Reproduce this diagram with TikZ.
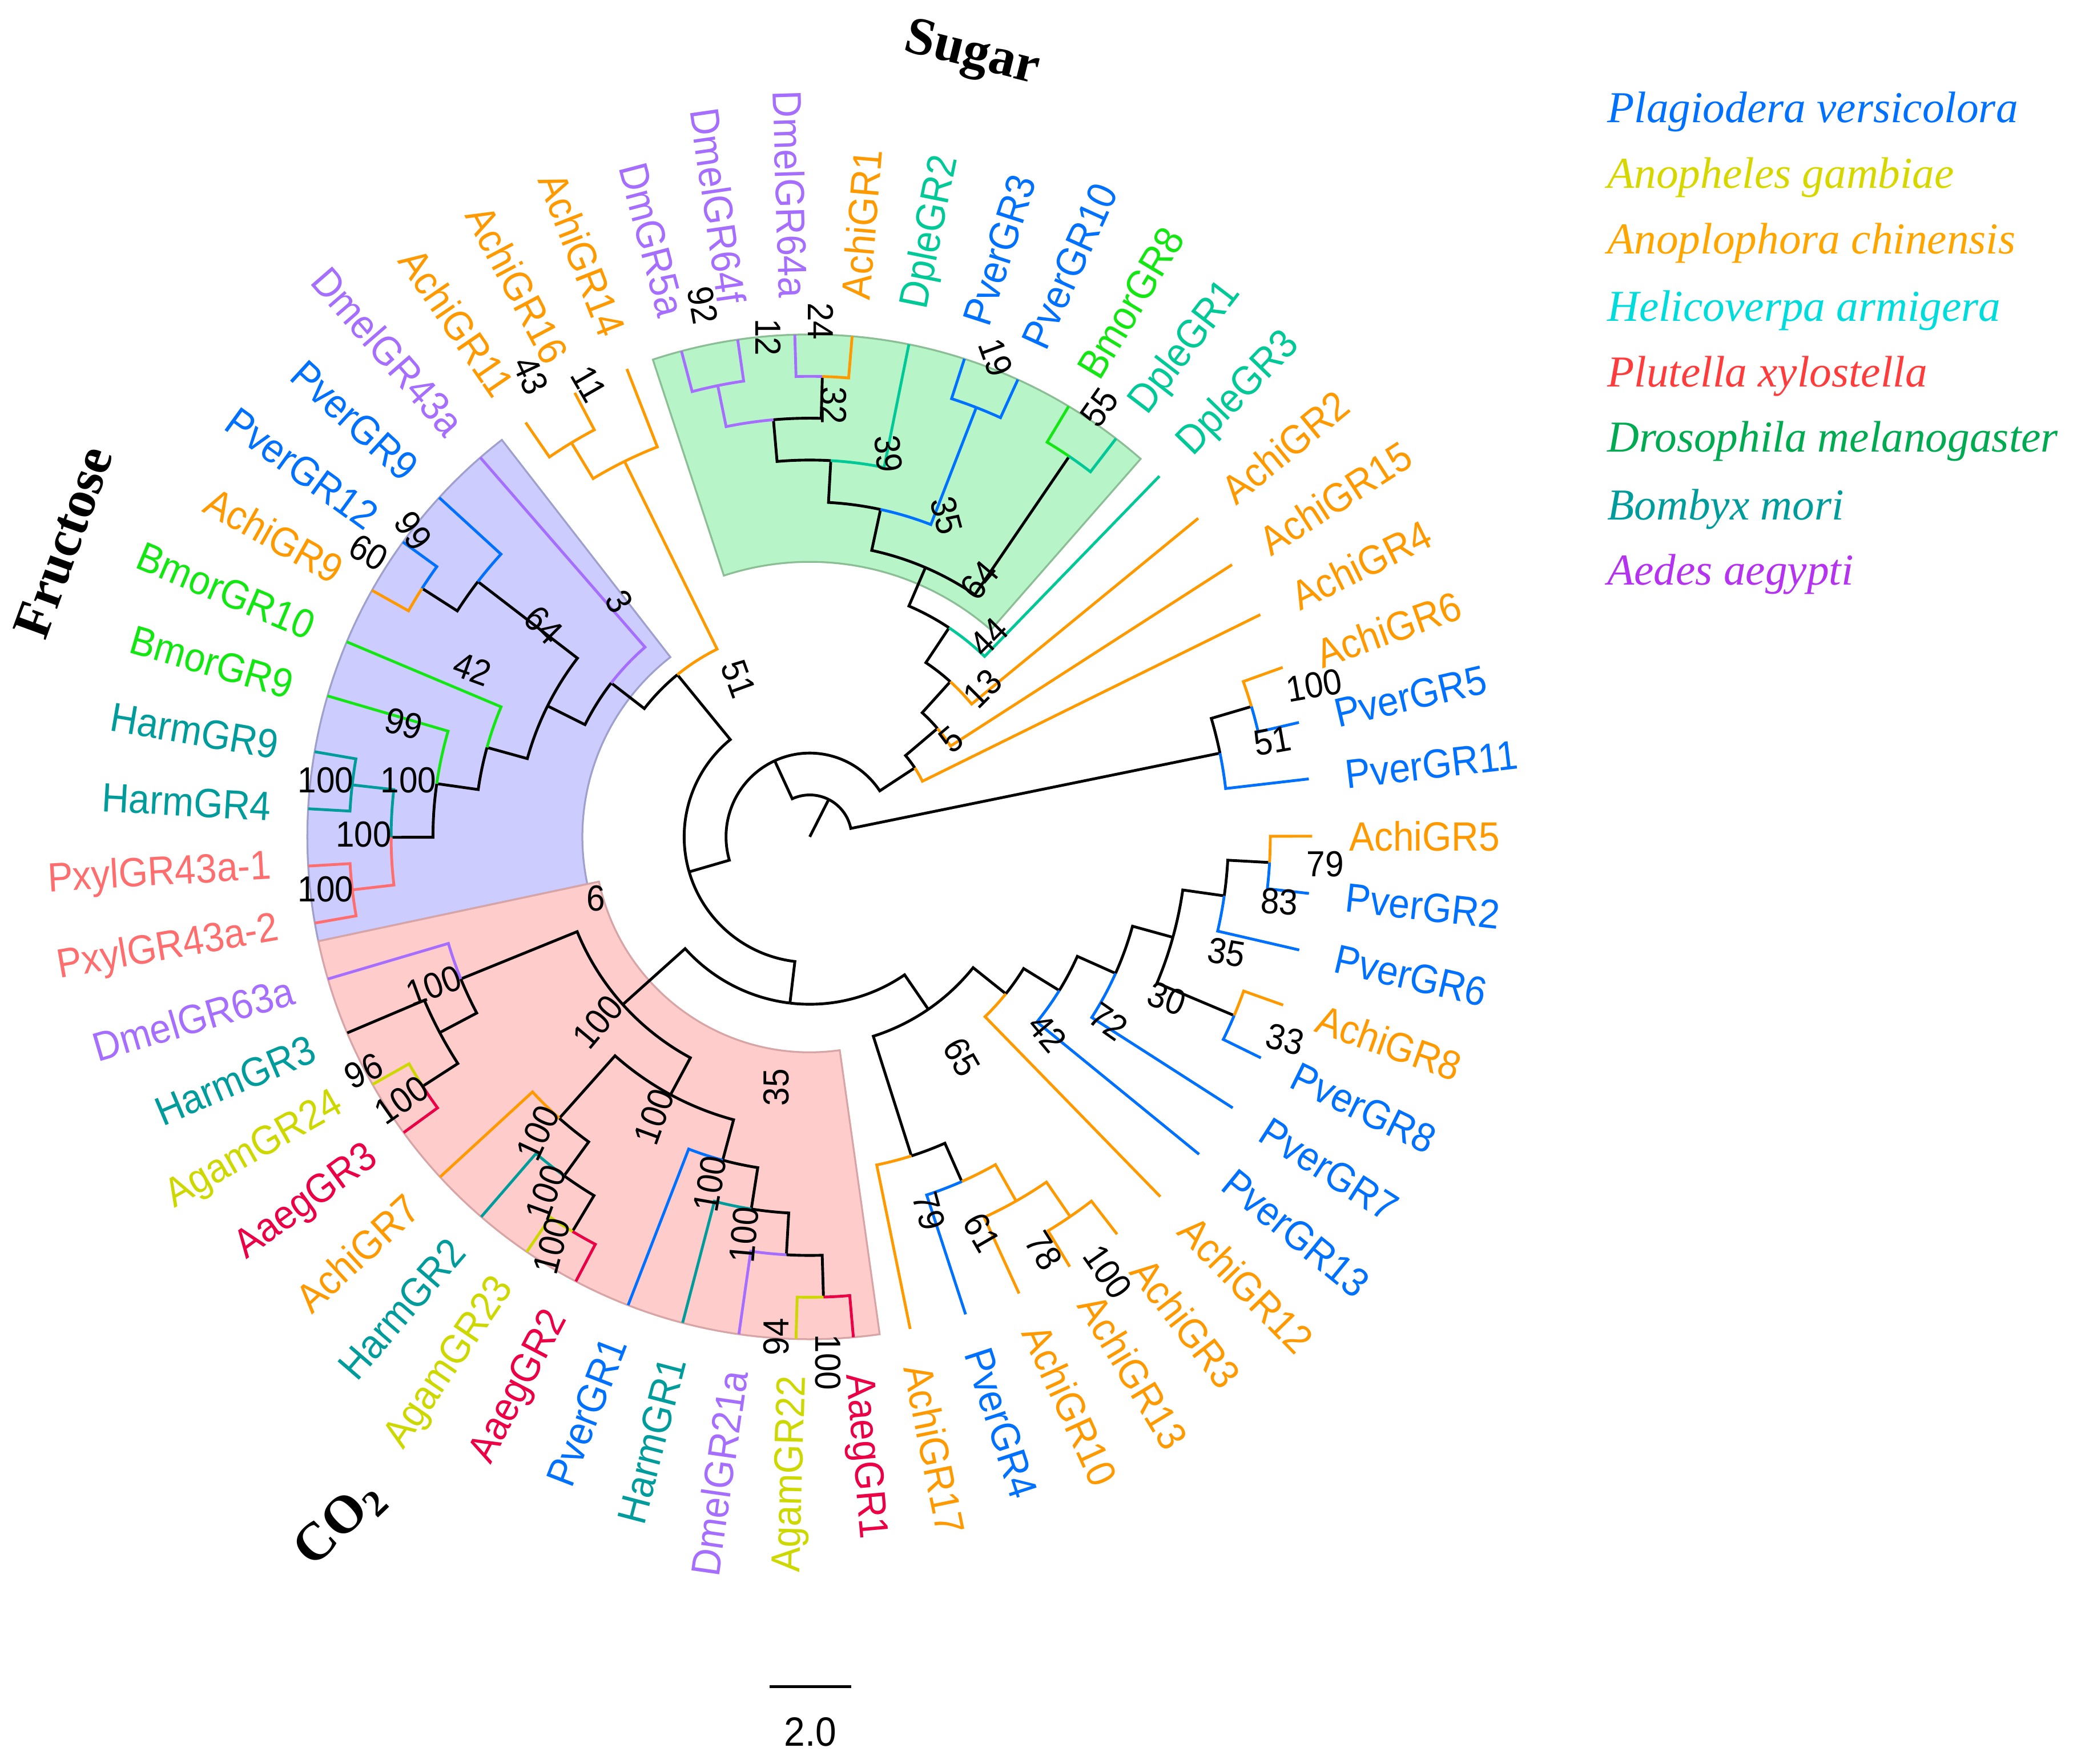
\documentclass[tikz,border=0pt]{standalone}
\usepackage{fontspec}
\newfontfamily\grfont{Liberation Sans}[FakeStretch=0.92]
\newfontfamily\serfont{Liberation Serif}
\usetikzlibrary{calc}

\definecolor{cAchi}{RGB}{255,153,0}
\definecolor{cPver}{RGB}{0,112,255}
\definecolor{cDmel}{RGB}{165,110,255}
\definecolor{cDple}{RGB}{0,200,150}
\definecolor{cBmor}{RGB}{20,230,20}
\definecolor{cHarm}{RGB}{0,155,155}
\definecolor{cPxyl}{RGB}{255,110,110}
\definecolor{cAgam}{RGB}{205,215,0}
\definecolor{cAaeg}{RGB}{235,0,70}
\definecolor{lgAgam}{RGB}{215,215,0}
\definecolor{lgAchi}{RGB}{255,165,0}
\definecolor{lgHarm}{RGB}{0,220,220}
\definecolor{lgPxyl}{RGB}{255,60,60}
\definecolor{lgDmel}{RGB}{0,170,80}
\definecolor{lgBmor}{RGB}{0,155,155}
\definecolor{lgAaeg}{RGB}{180,50,240}
\definecolor{secGreen}{RGB}{183,245,200}
\definecolor{secGreenDk}{RGB}{140,190,150}
\definecolor{secBlue}{RGB}{204,204,255}
\definecolor{secBlueDk}{RGB}{160,160,205}
\definecolor{secPink}{RGB}{255,204,204}
\definecolor{secPinkDk}{RGB}{215,165,165}

\newcommand\labfont{\grfont\fontsize{8.8}{10}\selectfont}
\newcommand\bsfont{\grfont\fontsize{7.8}{9}\selectfont}
\newcommand\legfont{\serfont\itshape\fontsize{9.5}{11}\selectfont}
\newcommand\ttlfont{\serfont\bfseries\fontsize{11.5}{13}\selectfont}

\tikzset{
  achi/.style={color=cAchi}, pver/.style={color=cPver}, dmel/.style={color=cDmel},
  dple/.style={color=cDple}, bmor/.style={color=cBmor}, harm/.style={color=cHarm},
  pxyl/.style={color=cPxyl}, agam/.style={color=cAgam}, aaeg/.style={color=cAaeg},
  lr/.style={anchor=west, inner sep=0pt, font=\labfont},
  ll/.style={anchor=east, inner sep=0pt, font=\labfont},
  bs/.style={inner sep=0pt, font=\bsfont},
  leg/.style={anchor=base west, inner sep=0pt, font=\legfont},
  ttl/.style={inner sep=0pt, font=\ttlfont},
}

% arc at the parent's radius, then out to the child
\newcommand{\tbranch}[3][black]{\draw[#1] let \p1=(#2), \p2=(#3),
  \n1={atan2(\y1,\x1)}, \n2={\n1+mod(atan2(\y2,\x2)-\n1+540,360)-180},
  \n3={veclen(\x1,\y1)} in (#2) arc[start angle=\n1, end angle=\n2, radius=\n3] -- (#3);}

\begin{document}
\begin{tikzpicture}[semithick]
\useasboundingbox (-6.125,-7.01) rectangle (9.555,6.33);

\filldraw[fill=secGreen, draw=secGreenDk, thin] (48.8:2.08) arc[start angle=48.8, end angle=108.2, radius=2.08] -- (108.2:3.8) arc[start angle=108.2, end angle=48.8, radius=3.8] -- cycle;
\filldraw[fill=secBlue, draw=secBlueDk, thin] (127.8:1.72) arc[start angle=127.8, end angle=192, radius=1.72] -- (192:3.8) arc[start angle=192, end angle=127.8, radius=3.8] -- cycle;
\filldraw[fill=secPink, draw=secPinkDk, thin] (192:1.63) arc[start angle=192, end angle=278, radius=1.63] -- (278:3.8) arc[start angle=278, end angle=192, radius=3.8] -- cycle;

\coordinate (AchiGR5) at (0.07:3.8);
\coordinate (PverGR2) at (-6.475:3.8);
\coordinate (PverGR6) at (-13.02:3.8);
\coordinate (AchiGR8) at (-19.57:3.8);
\coordinate (PverGR8) at (-26.11:3.8);
\coordinate (PverGR7) at (-32.66:3.8);
\coordinate (PverGR13) at (-39.20:3.8);
\coordinate (AchiGR12) at (-45.75:3.8);
\coordinate (AchiGR3) at (-52.29:3.8);
\coordinate (AchiGR13) at (-58.84:3.8);
\coordinate (AchiGR10) at (-65.38:3.8);
\coordinate (PverGR4) at (-71.93:3.8);
\coordinate (AchiGR17) at (-78.47:3.8);
\coordinate (AaegGR1) at (-85.02:3.8);
\coordinate (AgamGR22) at (-91.57:3.8);
\coordinate (DmelGR21a) at (-98.11:3.8);
\coordinate (HarmGR1) at (-104.66:3.8);
\coordinate (PverGR1) at (-111.20:3.8);
\coordinate (AaegGR2) at (-117.75:3.8);
\coordinate (AgamGR23) at (-124.29:3.8);
\coordinate (HarmGR2) at (-130.84:3.8);
\coordinate (AchiGR7) at (-137.38:3.8);
\coordinate (AaegGR3) at (-143.93:3.8);
\coordinate (AgamGR24) at (-150.47:3.8);
\coordinate (HarmGR3) at (-157.02:3.8);
\coordinate (DmelGR63a) at (-163.56:3.8);
\coordinate (Pxyl2) at (-170.11:3.8);
\coordinate (Pxyl1) at (-176.66:3.8);
\coordinate (HarmGR4) at (-183.20:3.8);
\coordinate (HarmGR9) at (-189.75:3.8);
\coordinate (BmorGR9) at (-196.29:3.8);
\coordinate (BmorGR10) at (-202.84:3.8);
\coordinate (AchiGR9) at (-209.38:3.8);
\coordinate (PverGR12) at (-215.93:3.8);
\coordinate (PverGR9) at (-222.47:3.8);
\coordinate (DmelGR43a) at (-229.02:3.8);
\coordinate (AchiGR11) at (-235.56:3.8);
\coordinate (AchiGR16) at (-242.11:3.8);
\coordinate (AchiGR14) at (-248.65:3.8);
\coordinate (DmGR5a) at (-255.20:3.8);
\coordinate (DmelGR64f) at (-261.75:3.8);
\coordinate (DmelGR64a) at (-268.29:3.8);
\coordinate (AchiGR1) at (-274.84:3.8);
\coordinate (DpleGR2) at (-281.38:3.8);
\coordinate (PverGR3) at (-287.93:3.8);
\coordinate (PverGR10) at (-294.47:3.8);
\coordinate (BmorGR8) at (-301.02:3.8);
\coordinate (DpleGR1) at (-307.56:3.8);
\coordinate (DpleGR3) at (-314.11:3.8);
\coordinate (AchiGR2) at (-320.65:3.8);
\coordinate (AchiGR15) at (-327.20:3.8);
\coordinate (AchiGR4) at (-333.75:3.8);
\coordinate (AchiGR6) at (-340.29:3.8);
\coordinate (PverGR5) at (-346.84:3.8);
\coordinate (PverGR11) at (-353.38:3.8);

\coordinate (O) at (0,0);
\coordinate (root) at (-296.86:0.3167);
\coordinate (n2) at (-245.25:0.6333);
\coordinate (n51a) at (-348.47:3.1667);
\coordinate (n100a) at (-343.565:3.4833);
\coordinate (nX) at (-326.715:0.95);
\coordinate (n5) at (-319.68:1.2667);
\coordinate (n13) at (-312.165:1.5833);
\coordinate (nG) at (-303.68:1.9);
\coordinate (nF) at (-293.245:2.2167);
\coordinate (nE) at (-282.2:2.5333);
\coordinate (n55) at (-304.29:3.4833);
\coordinate (nD) at (-273.2:2.85);
\coordinate (nP) at (-291.2:3.4833);
\coordinate (nC) at (-265.02:3.1667);
\coordinate (nA) at (-258.475:3.4833);
\coordinate (nB) at (-271.565:3.4833);
\coordinate (nN3) at (-163.78:0.95);
\coordinate (n51L) at (-230.755:1.5833);
\coordinate (n14) at (-243.74:3.1667);
\coordinate (n1116) at (-238.835:3.4833);
\coordinate (n3) at (-217.77:1.9);
\coordinate (nF2) at (-206.52:2.2167);
\coordinate (n64) at (-217.56:3.1667);
\coordinate (n60) at (-212.655:3.4833);
\coordinate (n42) at (-195.475:2.5333);
\coordinate (n99) at (-188.11:2.85);
\coordinate (n100e) at (-179.93:3.1667);
\coordinate (n100f) at (-186.475:3.4833);
\coordinate (n100g) at (-173.385:3.4833);
\coordinate (n4) at (-96.8:1.2667);
\coordinate (nCO2) at (-138.1:1.9);
\coordinate (nDH) at (-157.835:2.85);
\coordinate (n96) at (-152.11:3.1667);
\coordinate (n100d) at (-147.2:3.4833);
\coordinate (n241) at (-118.36:2.2167);
\coordinate (nAH) at (-131.655:2.85);
\coordinate (nHAA) at (-125.93:3.1667);
\coordinate (nAA2) at (-121.02:3.4833);
\coordinate (nPH) at (-105.065:2.5333);
\coordinate (nHDAA) at (-98.93:2.85);
\coordinate (nDAA) at (-93.2:3.1667);
\coordinate (n94) at (-88.295:3.4833);
\coordinate (nRL) at (-55.51:1.5833);
\coordinate (n65) at (-72.335:2.5333);
\coordinate (n79b) at (-66.2:2.85);
\coordinate (n61) at (-60.47:3.1667);
\coordinate (n78) at (-55.565:3.4833);
\coordinate (nq) at (-38.69:1.9);
\coordinate (n42r) at (-31.635:2.2167);
\coordinate (n72) at (-24.07:2.5333);
\coordinate (n30) at (-15.475:2.85);
\coordinate (n83) at (-8.11:3.1667);
\coordinate (n79) at (-3.2025:3.4833);
\coordinate (n33) at (-22.84:3.4833);

\draw (O) -- (root);
\tbranch{root}{n2} \tbranch{root}{n51a}
\tbranch{n51a}{n100a} \tbranch[pver]{n51a}{PverGR11}
\tbranch[achi]{n100a}{AchiGR6} \tbranch[pver]{n100a}{PverGR5}
\tbranch{n2}{nX} \tbranch{n2}{nN3}
\tbranch{nX}{n5} \tbranch[achi]{nX}{AchiGR4}
\tbranch{n5}{n13} \tbranch[achi]{n5}{AchiGR15}
\tbranch{n13}{nG} \tbranch[achi]{n13}{AchiGR2}
\tbranch{nG}{nF} \tbranch[dple]{nG}{DpleGR3}
\tbranch{nF}{nE} \tbranch{nF}{n55}
\tbranch[bmor]{n55}{BmorGR8} \tbranch[dple]{n55}{DpleGR1}
\tbranch{nE}{nD} \tbranch[pver]{nE}{nP}
\tbranch[pver]{nP}{PverGR3} \tbranch[pver]{nP}{PverGR10}
\tbranch{nD}{nC} \tbranch[dple]{nD}{DpleGR2}
\tbranch[dmel]{nC}{nA} \tbranch{nC}{nB}
\tbranch[dmel]{nA}{DmGR5a} \tbranch[dmel]{nA}{DmelGR64f}
\tbranch[dmel]{nB}{DmelGR64a} \tbranch[achi]{nB}{AchiGR1}
\tbranch{nN3}{n51L} \tbranch{nN3}{n4}
\tbranch{n51L}{n3} \tbranch[achi]{n51L}{n14}
\tbranch[achi]{n14}{n1116} \tbranch[achi]{n14}{AchiGR14}
\tbranch[achi]{n1116}{AchiGR11} \tbranch[achi]{n1116}{AchiGR16}
\tbranch{n3}{nF2} \tbranch[dmel]{n3}{DmelGR43a}
\tbranch{nF2}{n64} \tbranch{nF2}{n42}
\tbranch{n64}{n60} \tbranch[pver]{n64}{PverGR9}
\tbranch[achi]{n60}{AchiGR9} \tbranch[pver]{n60}{PverGR12}
\tbranch{n42}{n99} \tbranch[bmor]{n42}{BmorGR10}
\tbranch{n99}{n100e} \tbranch[bmor]{n99}{BmorGR9}
\tbranch[harm]{n100e}{n100f} \tbranch[pxyl]{n100e}{n100g}
\tbranch[harm]{n100f}{HarmGR4} \tbranch[harm]{n100f}{HarmGR9}
\tbranch[pxyl]{n100g}{Pxyl2} \tbranch[pxyl]{n100g}{Pxyl1}
\tbranch{n4}{nCO2} \tbranch{n4}{nRL}
\tbranch{nCO2}{n241} \tbranch{nCO2}{nDH}
\tbranch{nDH}{n96} \tbranch[dmel]{nDH}{DmelGR63a}
\tbranch{n96}{n100d} \tbranch{n96}{HarmGR3}
\tbranch[aaeg]{n100d}{AaegGR3} \tbranch[agam]{n100d}{AgamGR24}
\tbranch{n241}{nPH} \tbranch{n241}{nAH}
\tbranch{nAH}{nHAA} \tbranch[achi]{nAH}{AchiGR7}
\tbranch{nHAA}{nAA2} \tbranch[harm]{nHAA}{HarmGR2}
\tbranch[aaeg]{nAA2}{AaegGR2} \tbranch[agam]{nAA2}{AgamGR23}
\tbranch{nPH}{nHDAA} \tbranch[pver]{nPH}{PverGR1}
\tbranch{nHDAA}{nDAA} \tbranch[harm]{nHDAA}{HarmGR1}
\tbranch{nDAA}{n94} \tbranch[dmel]{nDAA}{DmelGR21a}
\tbranch[aaeg]{n94}{AaegGR1} \tbranch[agam]{n94}{AgamGR22}
\tbranch{nRL}{n65} \tbranch{nRL}{nq}
\tbranch{n65}{n79b} \tbranch[achi]{n65}{AchiGR17}
\tbranch[achi]{n79b}{n61} \tbranch[pver]{n79b}{PverGR4}
\tbranch[achi]{n61}{n78} \tbranch[achi]{n61}{AchiGR10}
\tbranch[achi]{n78}{AchiGR3} \tbranch[achi]{n78}{AchiGR13}
\tbranch{nq}{n42r} \tbranch[achi]{nq}{AchiGR12}
\tbranch{n42r}{n72} \tbranch[pver]{n42r}{PverGR13}
\tbranch{n72}{n30} \tbranch[pver]{n72}{PverGR7}
\tbranch{n30}{n83} \tbranch{n30}{n33}
\tbranch{n83}{n79} \tbranch[pver]{n83}{PverGR6}
\tbranch[achi]{n79}{AchiGR5} \tbranch[pver]{n79}{PverGR2}
\tbranch[achi]{n33}{AchiGR8} \tbranch[pver]{n33}{PverGR8}

\node[lr, achi, rotate=0.07] (tAchiGR5) at (0.07:4.07) {AchiGR5};
\node[lr, pver, rotate=-6.475] (tPverGR2) at (-6.475:4.07) {PverGR2};
\node[lr, pver, rotate=-13.02] (tPverGR6) at (-13.02:4.07) {PverGR6};
\node[lr, achi, rotate=-19.57] (tAchiGR8) at (-19.57:4.07) {AchiGR8};
\node[lr, pver, rotate=-26.11] (tPverGR8) at (-26.11:4.07) {PverGR8};
\node[lr, pver, rotate=-32.66] (tPverGR7) at (-32.66:4.07) {PverGR7};
\node[lr, pver, rotate=-39.20] (tPverGR13) at (-39.20:4.07) {PverGR13};
\node[lr, achi, rotate=-45.75] (tAchiGR12) at (-45.75:4.07) {AchiGR12};
\node[lr, achi, rotate=-52.29] (tAchiGR3) at (-52.29:4.07) {AchiGR3};
\node[lr, achi, rotate=-58.84] (tAchiGR13) at (-58.84:4.07) {AchiGR13};
\node[lr, achi, rotate=-65.38] (tAchiGR10) at (-65.38:4.07) {AchiGR10};
\node[lr, pver, rotate=-71.93] (tPverGR4) at (-71.93:4.07) {PverGR4};
\node[lr, achi, rotate=-78.47] (tAchiGR17) at (-78.47:4.07) {AchiGR17};
\node[lr, aaeg, rotate=-85.02] (tAaegGR1) at (-85.02:4.07) {AaegGR1};
\node[ll, agam, rotate=88.43] (tAgamGR22) at (-91.57:4.07) {AgamGR22};
\node[ll, dmel, rotate=81.89] (tDmelGR21a) at (-98.11:4.07) {DmelGR21a};
\node[ll, harm, rotate=75.34] (tHarmGR1) at (-104.66:4.07) {HarmGR1};
\node[ll, pver, rotate=68.80] (tPverGR1) at (-111.20:4.07) {PverGR1};
\node[ll, aaeg, rotate=62.25] (tAaegGR2) at (-117.75:4.07) {AaegGR2};
\node[ll, agam, rotate=55.71] (tAgamGR23) at (-124.29:4.07) {AgamGR23};
\node[ll, harm, rotate=49.16] (tHarmGR2) at (-130.84:4.07) {HarmGR2};
\node[ll, achi, rotate=42.62] (tAchiGR7) at (-137.38:4.07) {AchiGR7};
\node[ll, aaeg, rotate=36.07] (tAaegGR3) at (-143.93:4.07) {AaegGR3};
\node[ll, agam, rotate=29.53] (tAgamGR24) at (-150.47:4.07) {AgamGR24};
\node[ll, harm, rotate=22.98] (tHarmGR3) at (-157.02:4.07) {HarmGR3};
\node[ll, dmel, rotate=16.44] (tDmelGR63a) at (-163.56:4.07) {DmelGR63a};
\node[ll, pxyl, rotate=9.89] (tPxyl2) at (-170.11:4.07) {PxylGR43a-2};
\node[ll, pxyl, rotate=3.34] (tPxyl1) at (-176.66:4.07) {PxylGR43a-1};
\node[ll, harm, rotate=-3.20] (tHarmGR4) at (-183.20:4.07) {HarmGR4};
\node[ll, harm, rotate=-9.75] (tHarmGR9) at (-189.75:4.07) {HarmGR9};
\node[ll, bmor, rotate=-16.29] (tBmorGR9) at (-196.29:4.07) {BmorGR9};
\node[ll, bmor, rotate=-22.84] (tBmorGR10) at (-202.84:4.07) {BmorGR10};
\node[ll, achi, rotate=-29.38] (tAchiGR9) at (-209.38:4.07) {AchiGR9};
\node[ll, pver, rotate=-35.93] (tPverGR12) at (-215.93:4.07) {PverGR12};
\node[ll, pver, rotate=-42.47] (tPverGR9) at (-222.47:4.07) {PverGR9};
\node[ll, dmel, rotate=-49.02] (tDmelGR43a) at (-229.02:4.07) {DmelGR43a};
\node[ll, achi, rotate=-55.56] (tAchiGR11) at (-235.56:4.07) {AchiGR11};
\node[ll, achi, rotate=-62.11] (tAchiGR16) at (-242.11:4.07) {AchiGR16};
\node[ll, achi, rotate=-68.65] (tAchiGR14) at (-248.65:4.07) {AchiGR14};
\node[ll, dmel, rotate=-75.20] (tDmGR5a) at (-255.20:4.07) {DmGR5a};
\node[ll, dmel, rotate=-81.75] (tDmelGR64f) at (-261.75:4.07) {DmelGR64f};
\node[ll, dmel, rotate=-88.29] (tDmelGR64a) at (-268.29:4.07) {DmelGR64a};
\node[lr, achi, rotate=85.16] (tAchiGR1) at (-274.84:4.07) {AchiGR1};
\node[lr, dple, rotate=78.62] (tDpleGR2) at (-281.38:4.07) {DpleGR2};
\node[lr, pver, rotate=72.07] (tPverGR3) at (-287.93:4.07) {PverGR3};
\node[lr, pver, rotate=65.53] (tPverGR10) at (-294.47:4.07) {PverGR10};
\node[lr, bmor, rotate=58.98] (tBmorGR8) at (-301.02:4.07) {BmorGR8};
\node[lr, dple, rotate=52.44] (tDpleGR1) at (-307.56:4.07) {DpleGR1};
\node[lr, dple, rotate=45.89] (tDpleGR3) at (-314.11:4.07) {DpleGR3};
\node[lr, achi, rotate=39.35] (tAchiGR2) at (-320.65:4.07) {AchiGR2};
\node[lr, achi, rotate=32.80] (tAchiGR15) at (-327.20:4.07) {AchiGR15};
\node[lr, achi, rotate=26.25] (tAchiGR4) at (-333.75:4.07) {AchiGR4};
\node[lr, achi, rotate=19.71] (tAchiGR6) at (-340.29:4.07) {AchiGR6};
\node[lr, pver, rotate=13.16] (tPverGR5) at (-346.84:4.07) {PverGR5};
\node[lr, pver, rotate=6.62] (tPverGR11) at (-353.38:4.07) {PverGR11};

\node[bs, rotate=-80] (bs1) at (-0.81,4.02) {92};
\node[bs, rotate=-90] (bs2) at (-0.315,3.778) {12};
\node[bs, rotate=-90] (bs3) at (0.085,3.899) {24};
\node[bs, rotate=-90] (bs4) at (0.181,3.263) {32};
\node[bs, rotate=-85] (bs5) at (0.594,2.899) {39};
\node[bs, rotate=-70] (bs6) at (1.407,3.626) {19};
\node[bs, rotate=-75] (bs7) at (1.035,2.43) {35};
\node[bs, rotate=55] (bs8) at (2.191,3.248) {55};
\node[bs, rotate=50] (bs9) at (1.283,1.94) {64};
\node[bs, rotate=45] (bs10) at (1.355,1.51) {44};
\node[bs, rotate=45] (bs11) at (1.305,1.12) {13};
\node[bs, rotate=40] (bs12) at (1.071,0.735) {5};
\node[bs, rotate=-70] (bs13) at (-0.54,1.194) {51};
\node[bs, rotate=-60] (bs14) at (-1.442,1.778) {3};
\node[bs, rotate=-45] (bs15) at (-2.015,1.6) {64};
\node[bs, rotate=-20] (bs16) at (-2.552,1.269) {42};
\node[bs, rotate=-55] (bs17) at (-2.999,2.316) {99};
\node[bs, rotate=-30] (bs18) at (-3.339,2.15) {60};
\node[bs, rotate=-15] (bs19) at (-3.071,0.856) {99};
\node[bs] (bs20) at (-3.035,0.429) {100};
\node[bs] (bs21) at (-3.662,0.429) {100};
\node[bs] (bs22) at (-3.375,0.016) {100};
\node[bs] (bs23) at (-3.662,-0.397) {100};
\node[bs, rotate=-65] (bs24) at (-2.11,3.49) {43};
\node[bs, rotate=-60] (bs25) at (-1.671,3.424) {11};
\node[bs] (bs26) at (-1.618,-0.464) {6};
\node[bs, rotate=20] (bs27) at (-2.845,-1.125) {100};
\node[bs, rotate=25] (bs28) at (-3.375,-1.772) {96};
\node[bs, rotate=35] (bs29) at (-3.088,-1.992) {100};
\node[bs, rotate=50] (bs30) at (-1.603,-1.4) {100};
\node[bs, rotate=65] (bs31) at (-2.058,-2.24) {100};
\node[bs, rotate=70] (bs32) at (-1.997,-2.694) {100};
\node[bs, rotate=75] (bs33) at (-1.952,-3.094) {100};
\node[bs, rotate=70] (bs34) at (-1.179,-2.116) {100};
\node[bs, rotate=80] (bs35) at (-0.755,-2.626) {100};
\node[bs, rotate=85] (bs36) at (-0.498,-3.011) {100};
\node[bs, rotate=90] (bs37) at (-0.255,-1.896) {35};
\node[bs, rotate=90] (bs38) at (-0.255,-3.782) {94};
\node[bs, rotate=-90] (bs39) at (0.138,-3.975) {100};
\node[bs, rotate=10] (bs40) at (3.815,1.146) {100};
\node[bs, rotate=10] (bs41) at (3.498,0.725) {51};
\node[bs] (bs42) at (3.898,-0.205) {79};
\node[bs, rotate=-3] (bs43) at (3.553,-0.49) {83};
\node[bs, rotate=-10] (bs44) at (3.154,-0.874) {35};
\node[bs, rotate=-20] (bs45) at (2.7,-1.221) {30};
\node[bs, rotate=-35] (bs46) at (2.259,-1.395) {72};
\node[bs, rotate=-15] (bs47) at (3.595,-1.531) {33};
\node[bs, rotate=-50] (bs48) at (1.798,-1.481) {42};
\node[bs, rotate=-60] (bs49) at (1.151,-1.667) {65};
\node[bs, rotate=-75] (bs50) at (0.903,-2.832) {79};
\node[bs, rotate=-60] (bs51) at (1.302,-2.994) {61};
\node[bs, rotate=-58] (bs52) at (1.77,-3.13) {78};
\node[bs, rotate=-55] (bs53) at (2.252,-3.291) {100};

\node[ttl, rotate=-14] (tSugar) at (1.225,5.91) {Sugar};
\node[ttl, rotate=70] (tFructose) at (-5.645,2.23) {Fructose};
\node[ttl, rotate=44] (tCO2) at (-3.55,-5.195) {CO\textsubscript{2}};

\node[leg, cPver] (lg1) at (6.022,5.402) {Plagiodera versicolora};
\node[leg, lgAgam] (lg2) at (6.022,4.907) {Anopheles gambiae};
\node[leg, lgAchi] (lg3) at (6.022,4.411) {Anoplophora chinensis};
\node[leg, lgHarm] (lg4) at (6.022,3.901) {Helicoverpa armigera};
\node[leg, lgPxyl] (lg5) at (6.022,3.406) {Plutella xylostella};
\node[leg, lgDmel] (lg6) at (6.022,2.91) {Drosophila melanogaster};
\node[leg, lgBmor] (lg7) at (6.022,2.4) {Bombyx mori};
\node[leg, lgAaeg] (lg8) at (6.022,1.905) {Aedes aegypti};

\coordinate (sb1) at (-0.305,-6.43);
\coordinate (sb2) at (0.315,-6.43);
\draw (sb1) -- (sb2);
\node[font=\labfont, inner sep=0pt] (sbl) at (0.005,-6.77) {2.0};
\end{tikzpicture}
\end{document}
